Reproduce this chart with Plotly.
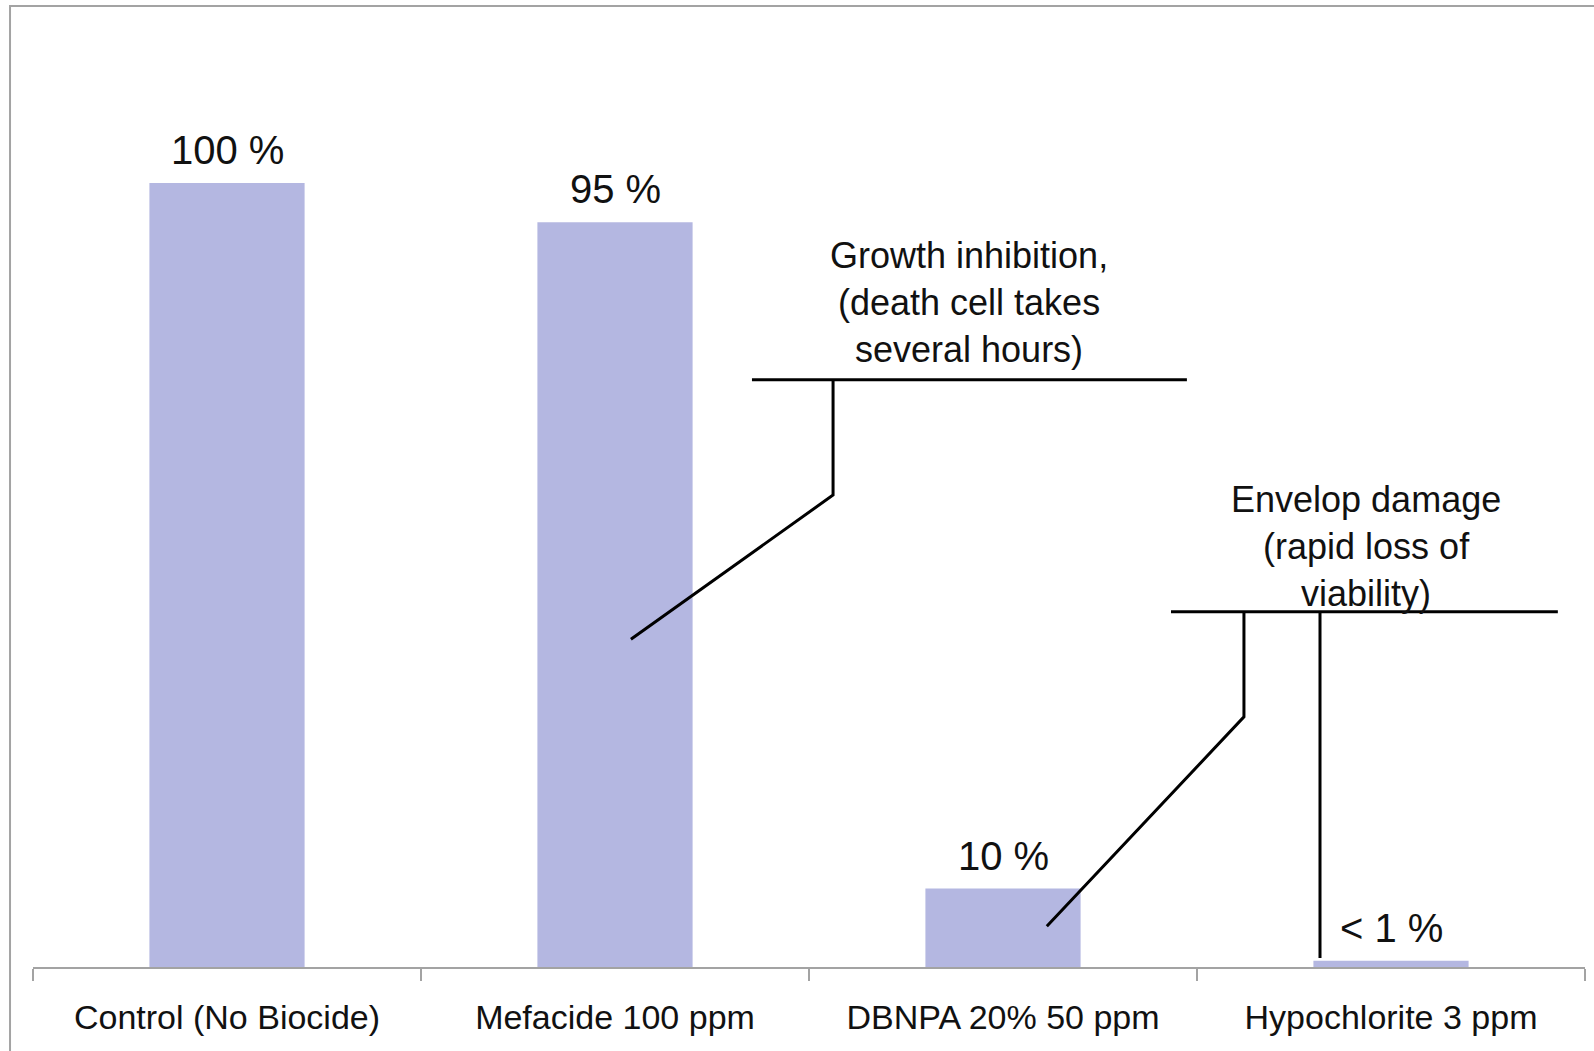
import plotly.graph_objects as go

# ---- data ----
categories = ["Control (No Biocide)", "Mefacide 100 ppm", "DBNPA 20% 50 ppm", "Hypochlorite 3 ppm"]
values = [100, 95, 10, 0.8]
value_labels = ["100 %", "95 %", "10 %", "< 1 %"]

callout_texts = [
    "Growth inhibition,<br>(death cell takes<br>several hours)",
    "Envelop damage<br>(rapid loss of<br>viability)",
]

# ---- callout geometry (x = category index, y = value units) ----
callout_text_pos = [(1.912, 84.8), (2.936, 53.6)]
callout_paths = [
    [(1.353, 74.9), (2.474, 74.9)],
    [(1.562, 74.9), (1.562, 60.2), (1.041, 41.8)],
    [(2.433, 45.3), (3.430, 45.3)],
    [(2.621, 45.3), (2.621, 31.9), (2.113, 5.2)],
    [(2.817, 45.3), (2.817, 1.15)],
]

FONT = "Liberation Sans, Arial, sans-serif"
BAR_COLOR = "#b4b7e1"
AXIS_GRAY = "#a3a3a3"
TEXT_COLOR = "#111111"

fig = go.Figure()
fig.add_trace(go.Bar(
    x=categories, y=values,
    marker=dict(color=BAR_COLOR, line=dict(width=0)),
    width=0.4,
    hoverinfo="skip",
))

shapes = []
for path in callout_paths:
    d = "M " + " L ".join(f"{x},{y}" for x, y in path)
    shapes.append(dict(type="path", path=d, xref="x", yref="y",
                       line=dict(color="black", width=3)))

# outer chart border
shapes.append(dict(type="rect", xref="paper", yref="paper",
                   x0=-0.0148, x1=1.02, y0=-0.2, y1=1.0367,
                   line=dict(color=AXIS_GRAY, width=2), layer="below"))

annotations = []
# value labels above bars
for cat, v, lab in zip(categories, values, value_labels):
    annotations.append(dict(text=lab, x=cat, y=v, xref="x", yref="y",
                            showarrow=False, yanchor="middle", yshift=33,
                            font=dict(family=FONT, size=40, color=TEXT_COLOR)))
# callout texts
for txt, (x, y) in zip(callout_texts, callout_text_pos):
    annotations.append(dict(text=txt, x=x, y=y, xref="x", yref="y",
                            showarrow=False, align="center",
                            font=dict(family=FONT, size=36, color=TEXT_COLOR)))

fig.update_layout(
    width=1594, height=1051,
    margin=dict(l=33, r=9, t=40, b=84),
    paper_bgcolor="white", plot_bgcolor="white",
    showlegend=False,
    shapes=shapes, annotations=annotations,
    xaxis=dict(
        type="category", range=[-0.5, 3.5],
        showline=True, linecolor=AXIS_GRAY, linewidth=2,
        ticks="outside", tickson="boundaries", ticklen=12, tickwidth=1.5, tickcolor=AXIS_GRAY,
        ticklabelstandoff=19,
        tickfont=dict(family=FONT, size=34, color=TEXT_COLOR),
        showgrid=False, zeroline=False,
    ),
    yaxis=dict(range=[0, 118.24], visible=False, showgrid=False, zeroline=False),
)

fig.write_html("out.html",
               config={"displayModeBar": False},
               post_script="document.body.style.margin='0';document.body.style.overflow='hidden';")
